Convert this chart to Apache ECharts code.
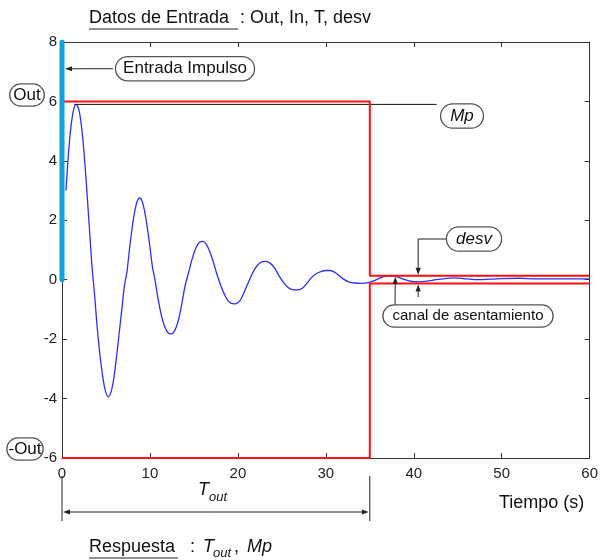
<!DOCTYPE html>
<html>
<head>
<meta charset="utf-8" />
<title>Respuesta al impulso</title>
<style>
  html, body { margin: 0; padding: 0; background: #fff; }
  #main { width: 601px; height: 560px; }
</style>
</head>
<body>
<script src="https://cdn.jsdelivr.net/npm/echarts@6/dist/echarts.min.js"></script>
<div id="main"></div>
<script>
var FONT = '"Liberation Sans", Arial, sans-serif';

// axes
var xMin = 0, xMax = 60, xStep = 10;
var yMin = -6, yMax = 8, yStep = 2;

// system response
var tiempo = [
  0.45, 0.7, 1.0, 1.3, 1.6, 1.9, 2.2, 2.5, 2.8, 3.1, 3.4,
  3.7, 4.0, 4.3, 4.6, 4.9, 5.25, 5.6, 5.9, 6.2, 6.5, 6.8, 7.1,
  7.4, 7.7, 8.0, 8.3, 8.6, 8.85, 9.1, 9.4, 9.7, 10.0, 10.3,
  10.6, 10.9, 11.3, 11.7, 12.1, 12.45, 12.8, 13.2, 13.6, 14.0,
  14.4, 14.8, 15.2, 15.6, 16.0, 16.4, 16.8, 17.2, 17.6,
  18.0, 18.4, 18.8, 19.2, 19.7, 20.2, 20.6, 21.0, 21.4,
  21.8, 22.2, 22.7, 23.2, 23.7, 24.2, 24.7,
  25.2, 25.7, 26.2, 26.8, 27.4, 27.9,
  28.4, 28.9, 29.5, 30.0, 30.5, 31.0, 31.5, 32.0,
  32.6, 33.3, 34.0, 34.8, 35.5, 36.2, 36.9, 37.6, 38.3, 39.0, 39.8,
  40.6, 41.5, 42.5, 43.5, 44.6, 45.6, 46.6, 47.6, 48.6, 50, 52, 54, 56, 58, 60
];
var salida = [
  3.0, 4.1, 5.1, 5.7, 5.9, 5.75, 5.2, 4.3, 3.1, 1.8, 0.5,
  -0.5, -1.6, -2.5, -3.2, -3.7, -3.94, -3.75, -3.3, -2.6, -1.8, -1.0, -0.2,
  0.3, 1.1, 1.8, 2.35, 2.68, 2.75, 2.65, 2.3, 1.75, 1.1, 0.4,
  -0.05, -0.6, -1.2, -1.6, -1.8, -1.82, -1.72, -1.4, -0.85, -0.2,
  0.25, 0.7, 1.05, 1.25, 1.29, 1.2, 0.95, 0.6, 0.2,
  -0.15, -0.45, -0.68, -0.79, -0.81, -0.72, -0.5, -0.22, 0.05,
  0.3, 0.48, 0.6, 0.62, 0.55, 0.38, 0.12,
  -0.1, -0.26, -0.33, -0.34, -0.27, -0.1,
  0.08, 0.2, 0.28, 0.31, 0.31, 0.25, 0.14, 0.02,
  -0.07, -0.11, -0.12, -0.1, -0.03, 0.06, 0.12, 0.13, 0.08, 0.0, -0.06,
  -0.07, -0.05, 0.0, 0.04, 0.06, 0.04, 0.01, 0.0, 0.02, 0.04, 0.05, 0.03, 0.03, 0.03, 0.03
];

// impulse input
var impulsoT = [0, 0];
var impulsoY = [0, 8];

// input data: Out, T, desv ; response: Mp
var outLevel = 6;
var tOut = 35;
var desv = 0.13;
var mp = 5.9;
var mpDesde = 1.4, mpHasta = 42.6;

function pairs(xs, ys) {
  return xs.map(function (x, i) { return [x, ys[i]]; });
}

var curva = pairs(tiempo, salida);
var impulso = pairs(impulsoT, impulsoY);
var bandaSup = [[0, outLevel], [tOut, outLevel], [tOut, desv], [xMax, desv]];
var bandaInf = [[0, -outLevel], [tOut, -outLevel], [tOut, -desv], [xMax, -desv]];
var lineaMp = [[mpDesde, mp], [mpHasta, mp]];

var chart = echarts.init(document.getElementById('main'));

var axisCommon = {
  type: 'value',
  splitLine: { show: false },
  axisLine: { show: true, onZero: false, lineStyle: { color: '#333', width: 1 } },
  axisTick: { show: true, inside: true, length: 5, lineStyle: { color: '#333' } }
};

chart.setOption({
  animation: false,
  grid: { left: 62, right: 8, top: 42, bottom: 102 },
  xAxis: [
    Object.assign({}, axisCommon, {
      min: xMin, max: xMax, interval: xStep, position: 'bottom',
      axisLabel: { fontFamily: FONT, fontSize: 15, color: '#222', margin: 8 }
    }),
    Object.assign({}, axisCommon, {
      min: xMin, max: xMax, interval: xStep, position: 'top',
      axisLabel: { show: false }
    })
  ],
  yAxis: [
    Object.assign({}, axisCommon, {
      min: yMin, max: yMax, interval: yStep, position: 'left',
      axisLabel: { fontFamily: FONT, fontSize: 15, color: '#222', margin: 5 }
    }),
    Object.assign({}, axisCommon, {
      min: yMin, max: yMax, interval: yStep, position: 'right',
      axisLabel: { show: false }
    })
  ],
  series: [
    {
      type: 'line', data: curva, smooth: 0.3, showSymbol: false, z: 2,
      lineStyle: { color: '#2d2dff', width: 1.3 }
    },
    {
      type: 'line', data: lineaMp, showSymbol: false, z: 3,
      lineStyle: { color: '#111', width: 1 }
    },
    {
      type: 'line', data: bandaSup, showSymbol: false, z: 4,
      lineStyle: { color: '#ff1010', width: 2 }
    },
    {
      type: 'line', data: bandaInf, showSymbol: false, z: 4,
      lineStyle: { color: '#ff1010', width: 2 }
    },
    {
      type: 'line', data: impulso, showSymbol: false, z: 5,
      lineStyle: { color: '#0ea2e0', width: 5, cap: 'round' }
    }
  ]
});

function px(pt) { return chart.convertToPixel({ gridIndex: 0 }, pt); }

function arrow(p1, p2) {
  var ang = Math.atan2(p2[1] - p1[1], p2[0] - p1[0]);
  var s = 7, w = 2.6;
  var bx = p2[0] - s * Math.cos(ang), by = p2[1] - s * Math.sin(ang);
  return [
    { type: 'line', z: 50, shape: { x1: p1[0], y1: p1[1], x2: bx, y2: by }, style: { stroke: '#222', lineWidth: 1 } },
    { type: 'polygon', z: 50, shape: { points: [p2, [bx + w * Math.sin(ang), by - w * Math.cos(ang)], [bx - w * Math.sin(ang), by + w * Math.cos(ang)]] }, style: { fill: '#222' } }
  ];
}

function caja(x, y, texto, size, italic, pad) {
  return {
    type: 'text', x: x, y: y, z: 60,
    style: {
      text: texto, font: (italic ? 'italic ' : '') + size + 'px ' + FONT, fill: '#111',
      align: 'center', verticalAlign: 'middle',
      backgroundColor: '#fff', borderColor: '#555', borderWidth: 1.3, borderRadius: 12,
      padding: pad || [3, 7]
    }
  };
}

function texto(x, y, t, size, italic, align) {
  return {
    type: 'text', x: x, y: y, z: 60,
    style: { text: t, font: (italic ? 'italic ' : '') + size + 'px ' + FONT, fill: '#111', align: align || 'left', verticalAlign: 'middle' }
  };
}

function linea(x1, y1, x2, y2) {
  return { type: 'line', z: 50, shape: { x1: x1, y1: y1, x2: x2, y2: y2 }, style: { stroke: '#222', lineWidth: 1 } };
}

var g = [];

// header
g.push(texto(89, 18, 'Datos de Entrada', 18));
g.push(linea(89, 29, 238, 29));
g.push(texto(240, 18, ': Out, In, T, desv', 18));

// Out / -Out labels
g.push(caja(27, 95, 'Out', 17, false, [2, 3]));
g.push(caja(25, 449, '-Out', 17, false, [2, 1]));

// Entrada Impulso
var pImp = px([0.35, 7.1]);
g = g.concat(arrow([113, pImp[1]], pImp));
g.push(caja(185, pImp[1], 'Entrada Impulso', 17, false, [3, 7]));

// Mp
g.push(caja(462, 116, 'Mp', 17, true, [3, 9]));

// desv
var pDs = px([40.5, desv]);
var pDi = px([40.5, -desv]);
g.push(linea(pDs[0], 239, 448, 239));
g = g.concat(arrow([pDs[0], 239], [pDs[0], pDs[1] - 1]));
g = g.concat(arrow([pDi[0], 297], [pDi[0], pDi[1] + 1]));
g.push(caja(474, 239, 'desv', 17, true, [3, 9]));

// canal de asentamiento
var pCa = px([37.9, desv]);
g = g.concat(arrow([395, 306], [pCa[0], pCa[1] + 1]));
g.push(caja(468, 316, 'canal de asentamiento', 15, false, [3, 9]));

// T_out dimension
var p0 = px([0, yMin]);
var pT = px([tOut, yMin]);
g.push(linea(p0[0], 476, p0[0], 521));
g.push(linea(pT[0], 476, pT[0], 521));
g = g.concat(arrow([(p0[0] + pT[0]) / 2, 512], [p0[0] + 1, 512]));
g = g.concat(arrow([(p0[0] + pT[0]) / 2, 512], [pT[0] - 1, 512]));
g.push(texto(198, 490, 'T', 18, true));
g.push(texto(209, 497, 'out', 13, true));

// x axis name
g.push(texto(499, 503, 'Tiempo (s)', 18));

// footer
g.push(texto(89, 547, 'Respuesta', 18));
g.push(linea(89, 558, 178, 558));
g.push(texto(190, 547, ':', 18));
g.push(texto(203, 547, 'T', 18, true));
g.push(texto(213, 553, 'out', 13, true));
g.push(texto(234, 547, ',', 18));
g.push(texto(247, 547, 'Mp', 18, true));

chart.setOption({ graphic: g });
</script>
</body>
</html>
